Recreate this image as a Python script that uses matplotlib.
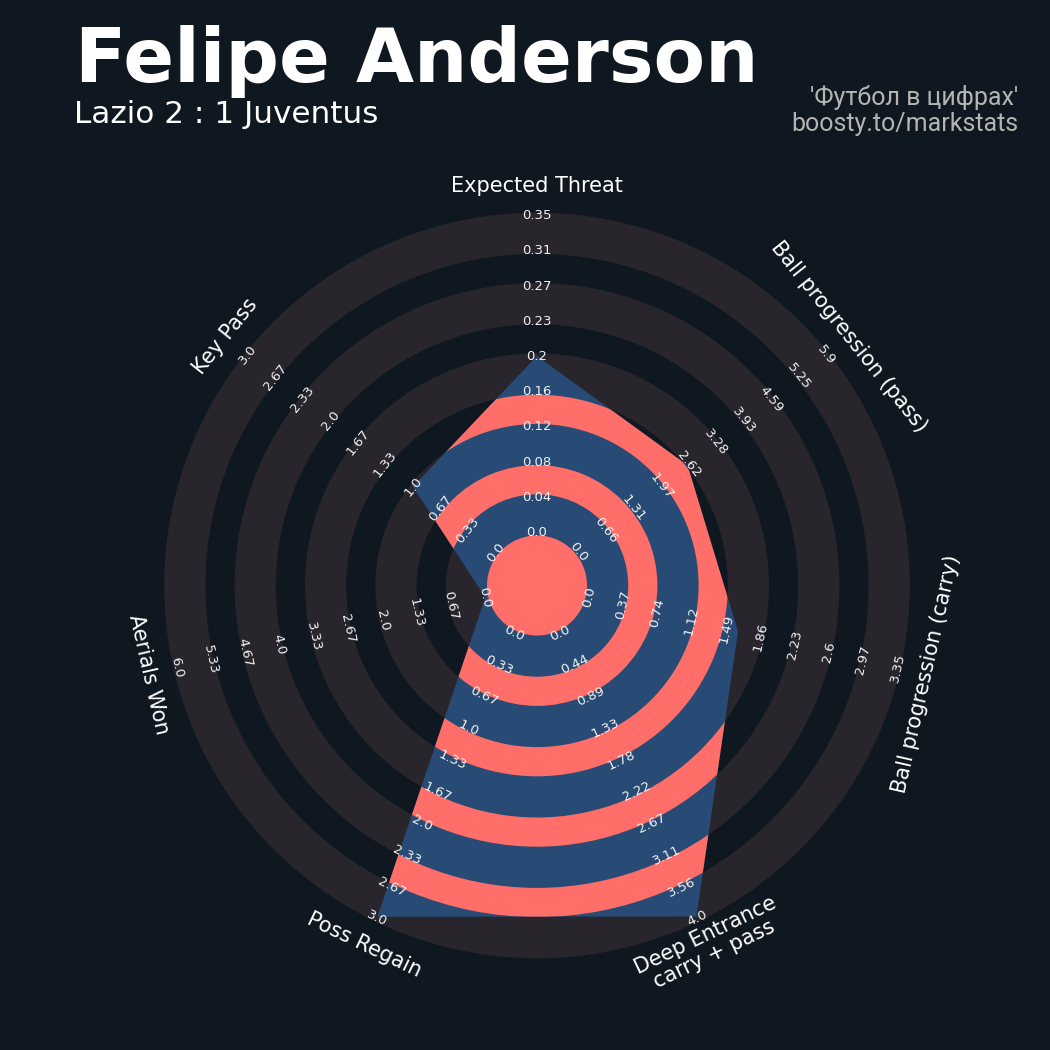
import numpy as np
import matplotlib.pyplot as plt
from matplotlib.patches import Wedge, Polygon, Circle

params = ['Expected Threat', 'Ball progression (pass)', 'Ball progression (carry)',
          'Deep Entrance\ncarry + pass', 'Poss Regain', 'Aerials Won', 'Key Pass']
low = [0.0, 0.0, 0.0, 0.0, 0.0, 0.0, 0.0]
high = [0.35, 5.9, 3.35, 4.0, 3.0, 6.0, 3.0]
values = [0.195, 2.6, 1.62, 3.97, 2.98, 0.0, 1.0]

range_labels = [
    ['0.0', '0.04', '0.08', '0.12', '0.16', '0.2', '0.23', '0.27', '0.31', '0.35'],
    ['0.0', '0.66', '1.31', '1.97', '2.62', '3.28', '3.93', '4.59', '5.25', '5.9'],
    ['0.0', '0.37', '0.74', '1.12', '1.49', '1.86', '2.23', '2.6', '2.97', '3.35'],
    ['0.0', '0.44', '0.89', '1.33', '1.78', '2.22', '2.67', '3.11', '3.56', '4.0'],
    ['0.0', '0.33', '0.67', '1.0', '1.33', '1.67', '2.0', '2.33', '2.67', '3.0'],
    ['0.0', '0.67', '1.33', '2.0', '2.67', '3.33', '4.0', '4.67', '5.33', '6.0'],
    ['0.0', '0.33', '0.67', '1.0', '1.33', '1.67', '2.0', '2.33', '2.67', '3.0'],
]

title = 'Felipe Anderson'
subtitle = 'Lazio 2 : 1 Juventus'
credit = ["'Футбол в цифрах'", 'boosty.to/markstats']

BG = '#0f1820'
RING = '#28252c'
BLUE = '#284b75'
RED = '#ff6e69'

# layout (pixels, y up)
CX, CY = 537, 464.5
R0 = 53          # radius of minimum value
STEP = 35.2      # distance between range labels
EDGE = 3         # gray rings are a bit wider than the gaps
LABEL_R = 399

n = len(params)
theta = np.deg2rad(90 - np.arange(n) * 360 / n)
bounds = R0 + STEP * np.arange(10)
r_max = bounds[-1]

fig = plt.figure(figsize=(10.5, 10.5), dpi=100, facecolor=BG)
ax = fig.add_axes([0, 0, 1, 1])
ax.set_xlim(0, 1050)
ax.set_ylim(0, 1050)
ax.set_aspect('equal')
ax.axis('off')
ax.set_facecolor(BG)

# gray rings
for j in range(5):
    r_in = bounds[2 * j] - EDGE
    r_out = bounds[2 * j + 1] + EDGE
    ax.add_patch(Wedge((CX, CY), r_out, 0, 360, width=r_out - r_in, facecolor=RING, edgecolor='none', zorder=1))

# radar polygon
vals = np.array(values)
frac = (vals - np.array(low)) / (np.array(high) - np.array(low))
rad = R0 + frac * (r_max - R0)
xs = CX + rad * np.cos(theta)
ys = CY + rad * np.sin(theta)
poly = Polygon(np.column_stack([xs, ys]), closed=True, facecolor=BLUE, edgecolor='none', zorder=2)
ax.add_patch(poly)

# red rings inside the polygon
for j in range(4):
    r_in = bounds[2 * j + 1] + EDGE
    r_out = bounds[2 * j + 2] - EDGE
    w = Wedge((CX, CY), r_out, 0, 360, width=r_out - r_in, facecolor=RED, edgecolor='none', zorder=3)
    ax.add_patch(w)
    w.set_clip_path(poly)
ax.add_patch(Circle((CX, CY), R0 - EDGE, facecolor=RED, edgecolor='none', zorder=3))


def text_rot(t):
    rot = (np.rad2deg(t) - 90 + 180) % 360 - 180
    if rot < -90:
        rot += 180
    elif rot > 90:
        rot -= 180
    return rot


for i in range(n):
    rot = text_rot(theta[i])
    for k, lab in enumerate(range_labels[i]):
        ax.text(CX + bounds[k] * np.cos(theta[i]), CY + bounds[k] * np.sin(theta[i]), lab,
                rotation=rot, rotation_mode='anchor', ha='center', va='center',
                fontsize=9.5, color='#f2f2f2', zorder=5)
    ax.text(CX + LABEL_R * np.cos(theta[i]), CY + LABEL_R * np.sin(theta[i]), params[i],
            rotation=rot, rotation_mode='anchor', ha='center', va='center',
            fontsize=15, color='white', linespacing=1.05, zorder=5)

fig.text(75 / 1050, 1 - 82 / 1050, title, fontsize=54, fontweight='bold', color='white',
         ha='left', va='baseline')
fig.text(74 / 1050, 1 - 123 / 1050, subtitle, fontsize=22.4, color='white',
         ha='left', va='baseline')
fig.text(1018 / 1050, 1 - 105 / 1050, credit[0], fontsize=18, color='#b4b4b4',
         family='Roboto', ha='right', va='baseline')
fig.text(1018 / 1050, 1 - 131 / 1050, credit[1], fontsize=18, color='#b4b4b4',
         family='Roboto', ha='right', va='baseline')

fig.savefig('out.png', dpi=100, facecolor=BG)
